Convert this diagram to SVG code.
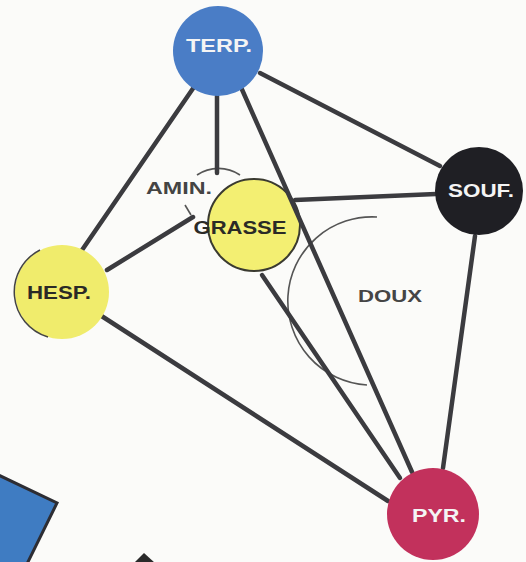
<svg xmlns="http://www.w3.org/2000/svg" width="526" height="562" viewBox="0 0 526 562">
  <style>
    .edge { stroke: #3b3b3f; stroke-width: 4.5; stroke-linecap: round; fill: none; }
    .thin { stroke: #555; stroke-width: 1.6; fill: none; }
    .lbl { font-family: "Liberation Sans", Arial, sans-serif; font-weight: bold; text-anchor: middle; }
    .w { fill: #f4f4f4; }
    .d { fill: #2a2a26; }
  </style>
  <rect width="526" height="562" fill="#fbfbf9"/>
  <g id="decor">
    <polygon points="-10,471 57,503 24,570 -10,570" fill="#3f7cc2" stroke="#2d2d33" stroke-width="3"/>
    <polygon points="134,563 144,553 155,563" fill="#2a2a2a"/>
  </g>
  <g id="doux">
    <path class="thin" d="M377,217 A84,84 0 1 0 367,385"/>
    <text class="lbl" x="390" y="302" font-size="17" fill="#454545" textLength="64" lengthAdjust="spacingAndGlyphs">DOUX</text>
  </g>
  <g id="amin">
    <path class="thin" d="M197,175 A38,38 0 0 1 240,175"/>
    <path class="thin" d="M185,205 L191,215"/>
    <text class="lbl" x="179" y="194" font-size="16" fill="#444" textLength="66" lengthAdjust="spacingAndGlyphs">AMIN.</text>
  </g>
  <g id="connectors">
    <line class="edge" x1="260" y1="73" x2="440" y2="166"/>
    <line class="edge" x1="194" y1="87" x2="80" y2="253"/>
    <line class="edge" x1="217" y1="96" x2="217" y2="173"/>
    <line class="edge" x1="295" y1="200" x2="436" y2="194"/>
    <line class="edge" x1="475" y1="236" x2="443" y2="468"/>
    <line class="edge" x1="107" y1="270" x2="193" y2="217"/>
    <line class="edge" x1="100" y1="315" x2="388" y2="501"/>
    <line class="edge" x1="262" y1="275" x2="400" y2="478"/>
  </g>
  <g id="grasse">
    <circle cx="254" cy="225" r="46" fill="#f3ef72" stroke="#3a3a30" stroke-width="2"/>
    <text class="lbl d" x="240" y="234" font-size="19" textLength="93" lengthAdjust="spacingAndGlyphs">GRASSE</text>
  </g>
  <g id="connector-terp-pyr">
    <line class="edge" x1="240" y1="85" x2="412" y2="472"/>
  </g>
  <g id="terp">
    <circle cx="218" cy="51" r="45" fill="#4a7dc6"/>
    <text class="lbl w" x="219" y="52" font-size="18" textLength="66" lengthAdjust="spacingAndGlyphs">TERP.</text>
  </g>
  <g id="souf">
    <circle cx="479" cy="191" r="44" fill="#1f1f24"/>
    <text class="lbl w" x="481" y="197" font-size="18" textLength="66" lengthAdjust="spacingAndGlyphs">SOUF.</text>
  </g>
  <g id="hesp">
    <circle cx="62" cy="292" r="47" fill="#f0ec6c"/>
    <path d="M40,250 A47,47 0 0 0 48,337" fill="none" stroke="#444" stroke-width="1.5"/>
    <text class="lbl d" x="59" y="299" font-size="19" textLength="64" lengthAdjust="spacingAndGlyphs">HESP.</text>
  </g>
  <g id="pyr">
    <circle cx="433" cy="514" r="46" fill="#c2315c"/>
    <text class="lbl w" x="439" y="522" font-size="18" textLength="54" lengthAdjust="spacingAndGlyphs">PYR.</text>
  </g>
</svg>
